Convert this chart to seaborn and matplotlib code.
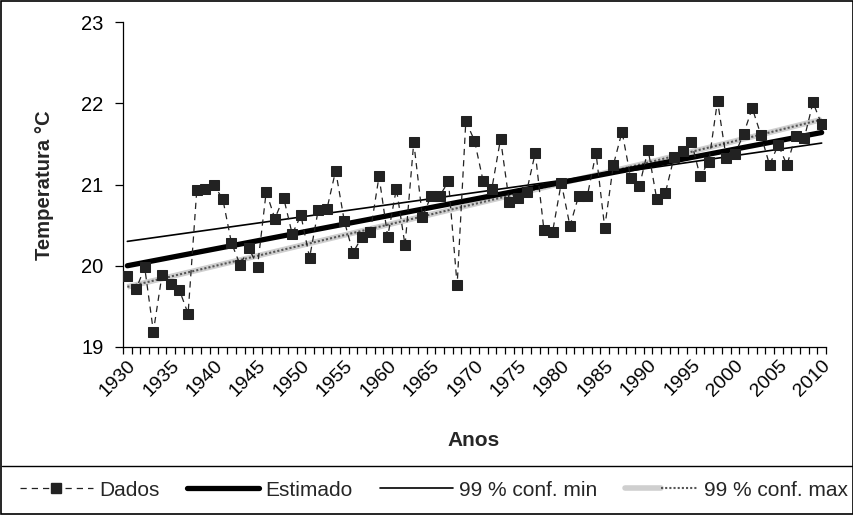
import numpy as np
import pandas as pd
import matplotlib
matplotlib.use("Agg")
import matplotlib.pyplot as plt
import seaborn as sns
from matplotlib.lines import Line2D
from matplotlib.legend_handler import HandlerTuple

sns.set_style("white")
plt.rcParams['font.family'] = ['Liberation Sans', 'DejaVu Sans']
plt.rcParams.update({
    "xtick.bottom": True, "ytick.left": True,
    "xtick.direction": "out", "ytick.direction": "out",
    "xtick.color": "black", "ytick.color": "black",
    "xtick.labelcolor": "black", "ytick.labelcolor": "black",
})

years = list(range(1930, 2011))
dados = [19.87, 19.71, 19.98, 19.19, 19.89, 19.77, 19.70, 19.41, 20.93, 20.95,
         20.99, 20.82, 20.28, 20.01, 20.22, 19.99, 20.91, 20.58, 20.84, 20.39,
         20.62, 20.10, 20.69, 20.70, 21.17, 20.55, 20.16, 20.35, 20.42, 21.10,
         20.36, 20.95, 20.25, 21.52, 20.60, 20.86, 20.86, 21.04, 19.76, 21.78,
         21.54, 21.04, 20.95, 21.56, 20.79, 20.84, 20.91, 21.39, 20.44, 20.42,
         21.02, 20.49, 20.86, 20.86, 21.39, 20.47, 21.24, 21.65, 21.08, 20.98,
         21.43, 20.82, 20.90, 21.34, 21.41, 21.52, 21.10, 21.28, 22.03, 21.33,
         21.37, 21.62, 21.94, 21.61, 21.24, 21.49, 21.24, 21.60, 21.57, 22.01,
         21.74]

trend_years = [1930, 1950, 1970, 1990, 2010]
estimado = [20.00, 20.41, 20.82, 21.23, 21.64]
conf_min = [20.30, 20.60, 20.90, 21.20, 21.51]
conf_max = [19.74, 20.25, 20.76, 21.27, 21.80]

tick_labels = [str(y) for y in range(1930, 2011, 5)]

df = pd.DataFrame({"pos": [y - years[0] for y in years], "temp": dados})
tdf = pd.DataFrame({"pos": [y - years[0] for y in trend_years],
                    "est": estimado, "cmin": conf_min, "cmax": conf_max})

W, H = 854, 515
fig = plt.figure(figsize=(W / 100, H / 100), dpi=100)
ax = fig.add_axes([123 / W, 1 - 347 / H, (826 - 123) / W, (347 - 22) / H])

# conf max: textured gray band
sns.lineplot(data=tdf, x="pos", y="cmax", ax=ax, color="#cfcfcf", linewidth=4.0,
             solid_capstyle="butt", zorder=2)
sns.lineplot(data=tdf, x="pos", y="cmax", ax=ax, color="#555555", linewidth=1.5,
             linestyle=(0, (1, 1)), zorder=2.1)
# estimado
sns.lineplot(data=tdf, x="pos", y="est", ax=ax, color="black", linewidth=3.8,
             solid_capstyle="round", zorder=3)
# conf min
sns.lineplot(data=tdf, x="pos", y="cmin", ax=ax, color="black", linewidth=1.2, zorder=3)
# dados
sns.lineplot(data=df, x="pos", y="temp", ax=ax, color="#222222", linewidth=0.9,
             linestyle=(0, (5, 4)), marker="s", markersize=7,
             markeredgecolor="#222222", markerfacecolor="#222222", zorder=4)

ax.set_xlim(-0.5, len(years) - 0.5)
ax.set_ylim(19, 23)
ax.set_yticks([19, 20, 21, 22, 23])
ax.set_yticklabels(["19", "20", "21", "22", "23"], fontsize=14.5)
ax.set_xticks([y - years[0] for y in range(1930, 2011, 5)])
ax.set_xticklabels(tick_labels, rotation=45, ha="right", va="top",
                   rotation_mode="anchor", fontsize=14)
ax.set_xticks(np.arange(-0.5, len(years), 1.0), minor=True)
ax.tick_params(axis="x", which="major", bottom=True, length=0, pad=7)
ax.tick_params(axis="x", which="minor", bottom=True, length=5, width=0.9,
               color="black", direction="out")
ax.tick_params(axis="y", which="major", left=True, length=6, width=0.9,
               color="black", direction="out", pad=8)
for s in ["top", "right"]:
    ax.spines[s].set_visible(False)
for s in ["left", "bottom"]:
    ax.spines[s].set_color("black")
    ax.spines[s].set_linewidth(0.9)
ax.set_xlabel("")
ax.set_ylabel("")
ax.grid(False)

fig.text(45 / W, 1 - 185 / H, "Temperatura °C", rotation=90, ha="center", va="center",
         fontsize=14.6, fontweight="bold")
fig.text(474 / W, 1 - 441 / H, "Anos", ha="center", va="center",
         fontsize=15, fontweight="bold")

# outer border and legend separator
fig.add_artist(plt.Rectangle((0.001, 0.001), 0.998, 0.997, transform=fig.transFigure,
                             fill=False, edgecolor="black", linewidth=1.2))
fig.add_artist(Line2D([0.002, 0.998], [1 - 466 / H, 1 - 466 / H], transform=fig.transFigure,
                      color="black", linewidth=1.0))

h_dados = Line2D([], [], color="#222222", linewidth=0.9, linestyle=(0, (5, 4)),
                 marker="s", markersize=7)
h_est = Line2D([], [], color="black", linewidth=3.8)
h_min = Line2D([], [], color="black", linewidth=1.2)
h_max1 = Line2D([], [], color="#cfcfcf", linewidth=4.0)
h_max2 = Line2D([], [], color="#555555", linewidth=1.5, linestyle=(0, (1, 1)))
fig.legend([h_dados, h_est, h_min, (h_max1, h_max2)],
           ["Dados", "Estimado", "99 % conf. min", "99 % conf. max"],
           handler_map={tuple: HandlerTuple(ndivide=None, pad=0)},
           loc="center", bbox_to_anchor=(0.508, 1 - 490 / H), ncol=4, frameon=False,
           fontsize=15, handlelength=3.5, columnspacing=1.3, handletextpad=0.3,
           borderpad=0.2, borderaxespad=0)

fig.savefig("out.png", dpi=100, facecolor="white")
